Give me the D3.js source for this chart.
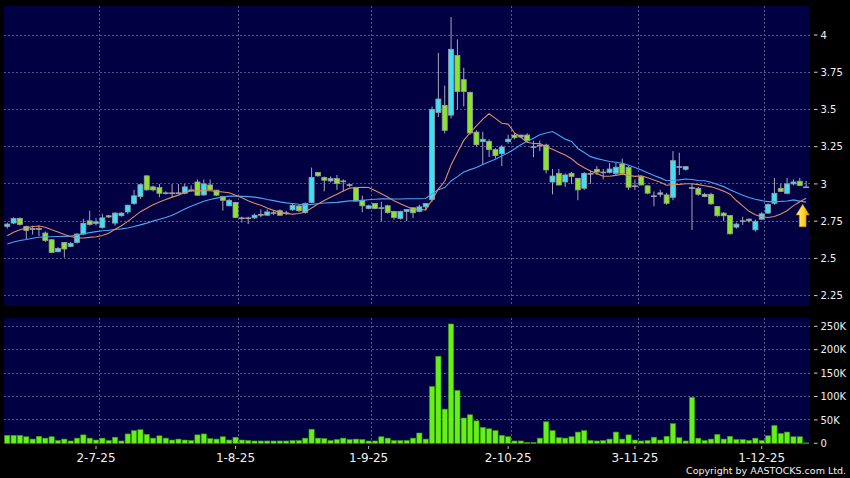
<!DOCTYPE html>
<html>
<head>
<meta charset="utf-8">
<script src="https://cdn.jsdelivr.net/npm/d3@7"></script>
<style>
  body { margin: 0; background: #000; }
  svg { display: block; }
  text { font-family: "DejaVu Sans", Verdana, sans-serif; fill: #f0f0f0; }
</style>
</head>
<body>
<svg id="chart" width="850" height="478"></svg>
<script>
// daily candles, 11 Jun 2025 .. 10 Dec 2025 (index based)
var opens = [2.715,2.737,2.768,2.714,2.70,2.70,2.67,2.625,2.545,2.607,2.58,2.607,2.663,2.752,2.735,2.708,2.786,2.737,2.787,2.812,
  2.868,2.915,3.054,2.98,2.975,2.94,2.94,2.94,2.937,2.955,3.013,2.926,2.993,2.958,2.915,2.853,2.875,2.772,2.772,2.772,
  2.79,2.79,2.807,2.82,2.806,2.826,2.852,2.808,2.875,3.076,3.043,3.02,3.036,3.02,2.995,2.975,2.89,2.835,2.868,2.84,
  2.853,2.815,2.768,2.815,2.84,2.815,2.846,2.895,3.48,3.527,3.462,3.862,3.70,3.614,3.348,3.284,3.286,3.23,3.203,3.284,
  3.328,3.315,3.328,3.25,3.26,3.261,3.013,3.071,3.013,3.071,3.038,2.971,3.07,3.098,3.08,3.076,3.071,3.134,3.11,2.987,
  3.049,2.987,2.92,2.93,2.926,2.91,3.116,3.098,2.975,2.97,2.93,2.93,2.848,2.804,2.788,2.71,2.752,2.763,2.692,2.763,
  2.804,2.87,2.97,2.937,3.0,3.018,2.98];
var highs = [2.74,2.775,2.775,2.72,2.72,2.72,2.68,2.63,2.575,2.61,2.61,2.67,2.765,2.82,2.77,2.80,2.79,2.81,2.81,2.86,
  2.96,3.0,3.06,2.99,3.0,2.95,3.0,3.0,3.0,2.99,3.03,3.03,3.03,2.96,2.92,2.90,2.88,2.78,2.78,2.80,
  2.83,2.83,2.82,2.83,2.82,2.87,2.86,2.875,3.11,3.08,3.05,3.05,3.06,3.03,3.0,2.98,2.92,2.86,2.87,2.88,
  2.86,2.82,2.82,2.83,2.84,2.86,2.87,3.52,3.88,3.66,4.12,3.97,3.78,3.62,3.36,3.35,3.30,3.24,3.26,3.33,
  3.34,3.33,3.34,3.29,3.29,3.27,3.10,3.10,3.07,3.08,3.04,3.08,3.09,3.12,3.10,3.14,3.14,3.17,3.12,3.03,
  3.05,2.99,2.95,2.96,2.94,3.22,3.21,3.12,3.0,2.98,2.94,2.94,2.85,2.81,2.79,2.74,2.78,2.77,2.76,2.81,
  2.87,3.04,3.0,3.04,3.03,3.04,3.02];
var lows = [2.70,2.73,2.72,2.63,2.66,2.65,2.61,2.535,2.54,2.505,2.575,2.60,2.66,2.72,2.72,2.70,2.77,2.72,2.78,2.80,
  2.86,2.90,2.955,2.95,2.91,2.93,2.91,2.93,2.93,2.95,2.92,2.92,2.955,2.92,2.82,2.85,2.77,2.74,2.73,2.765,
  2.775,2.785,2.79,2.785,2.79,2.82,2.81,2.80,2.87,3.05,2.95,3.01,2.96,2.95,2.98,2.88,2.81,2.83,2.83,2.75,
  2.80,2.76,2.76,2.75,2.77,2.81,2.82,2.88,3.45,3.34,3.44,3.50,3.52,3.33,3.25,3.13,3.18,3.17,3.12,3.27,
  3.30,3.31,3.28,3.18,3.22,3.07,2.93,2.99,2.98,3.00,2.89,2.96,3.00,3.06,3.03,3.07,3.06,3.06,2.96,2.96,
  2.99,2.93,2.85,2.91,2.86,2.89,3.06,3.09,2.69,2.92,2.91,2.86,2.78,2.75,2.66,2.70,2.725,2.74,2.68,2.76,
  2.80,2.86,2.945,2.93,2.99,2.985,2.975];
var closes = [2.73,2.768,2.728,2.688,2.70,2.695,2.62,2.54,2.567,2.563,2.60,2.663,2.735,2.728,2.745,2.772,2.778,2.804,2.804,2.857,
  2.92,2.995,2.96,2.96,2.937,2.935,2.94,2.94,2.98,2.96,2.924,3.0,2.96,2.924,2.89,2.89,2.775,2.772,2.77,2.79,
  2.795,2.812,2.805,2.79,2.806,2.857,2.82,2.868,3.043,3.054,3.025,3.036,3.002,3.02,2.99,2.886,2.853,2.853,2.835,2.84,
  2.808,2.775,2.815,2.828,2.806,2.846,2.868,3.50,3.57,3.36,3.904,3.62,3.62,3.342,3.263,3.30,3.23,3.19,3.248,3.30,
  3.31,3.328,3.29,3.25,3.26,3.094,3.053,2.993,3.06,3.05,2.96,3.071,3.07,3.08,3.08,3.10,3.112,3.071,2.978,2.987,
  2.993,2.938,2.92,2.94,2.87,3.156,3.116,3.116,2.975,2.93,2.915,2.866,2.786,2.786,2.665,2.73,2.752,2.752,2.748,2.799,
  2.862,2.937,2.95,3.0,3.013,2.99,2.98];
// volume in thousands of shares
var volumesK = [17,17,17,14,9,15,11,14,6,9,5,11,18,11,7,11,6,13,5,20,
  27,29,19,11,16,11,7,9,7,6,18,20,10,9,14,7,13,7,6,5,
  5,5,5,5,5,6,6,11,30,11,10,6,8,11,8,9,8,5,5,14,
  11,6,6,6,11,22,9,121,186,73,255,113,54,61,48,34,31,27,17,14,
  5,5,2,2,11,46,27,12,11,14,24,27,6,5,6,9,24,9,18,7,
  5,6,13,7,15,42,12,5,98,11,6,9,19,9,15,8,8,6,11,6,
  16,38,21,24,14,14,1];
// closes before the window, only used to start the moving averages
var priorCloses = [2.50,2.52,2.55,2.53,2.56,2.55,2.54,2.53,2.55,2.57,
  2.54,2.55,2.57,2.604,2.66,2.70,2.72,2.71,2.736];

var tickIdx = [14, 36, 57, 79, 99, 119];
var tickLabels = ["2-7-25", "1-8-25", "1-9-25", "2-10-25", "3-11-25", "1-12-25"];
var priceTicks = [2.25, 2.5, 2.75, 3, 3.25, 3.5, 3.75, 4];
var volTicks = [0, 50, 100, 150, 200, 250];

var n = closes.length;
var svg = d3.select("#chart");
var panelL = 4, panelR = 810;
var mainTop = 6, mainBot = 306;
var volTop = 318, volBot = 443.5;

var x = d3.scaleBand().domain(d3.range(n)).range([4.1, 4.1 + n * 6.34]);
var cx = function(i) { return x(i) + x.bandwidth() / 2; };
var y = d3.scaleLinear().domain([2.25, 4]).range([295.6, 35]);
var yv = d3.scaleLinear().domain([0, 250]).range([443.3, 326.3]);

svg.append("rect").attr("width", 850).attr("height", 478).attr("fill", "#000");

var defs = svg.append("defs");
defs.append("clipPath").attr("id", "clipMain").append("rect")
  .attr("x", panelL).attr("y", mainTop).attr("width", panelR - panelL).attr("height", mainBot - mainTop);
var grad = defs.append("linearGradient").attr("id", "arrowGrad").attr("x1", "0").attr("x2", "1");
grad.append("stop").attr("offset", "0").attr("stop-color", "#fff27a");
grad.append("stop").attr("offset", "0.6").attr("stop-color", "#ffd21e");
grad.append("stop").attr("offset", "1").attr("stop-color", "#e09a00");

// panels
svg.append("rect").attr("x", panelL).attr("y", mainTop).attr("width", panelR - panelL)
  .attr("height", mainBot - mainTop).attr("fill", "#000042");
svg.append("rect").attr("x", panelL).attr("y", volTop).attr("width", panelR - panelL)
  .attr("height", volBot - volTop).attr("fill", "#000042");

var gridColor = "#56568e";
// horizontal grid
svg.append("g").attr("shape-rendering", "crispEdges").selectAll("line").data(priceTicks).join("line")
  .attr("x1", panelL).attr("x2", panelR)
  .attr("y1", function(d) { return y(d); }).attr("y2", function(d) { return y(d); })
  .attr("stroke", gridColor).attr("stroke-dasharray", "2,2");
svg.append("g").attr("shape-rendering", "crispEdges").selectAll("line").data(volTicks.slice(1)).join("line")
  .attr("x1", panelL).attr("x2", panelR)
  .attr("y1", function(d) { return yv(d); }).attr("y2", function(d) { return yv(d); })
  .attr("stroke", gridColor).attr("stroke-dasharray", "2,2");
// vertical grid, at the band edge after the month's first day
[[mainTop, mainBot], [volTop, volBot]].forEach(function(p) {
  svg.append("g").attr("shape-rendering", "crispEdges").selectAll("line").data(tickIdx).join("line")
    .attr("x1", function(i) { return x(i) + x.step(); }).attr("x2", function(i) { return x(i) + x.step(); })
    .attr("y1", p[0]).attr("y2", p[1])
    .attr("stroke", gridColor).attr("stroke-dasharray", "2,2");
});

// right axes
var yAxis = svg.append("g");
yAxis.selectAll("line").data(priceTicks).join("line")
  .attr("x1", 814).attr("x2", 817.5)
  .attr("y1", function(d) { return y(d); }).attr("y2", function(d) { return y(d); })
  .attr("stroke", "#d0d0d0");
yAxis.selectAll("text").data(priceTicks).join("text")
  .attr("x", 820.5).attr("y", function(d) { return y(d); }).attr("dy", "0.36em")
  .attr("font-size", "10px").text(function(d) { return String(d); });

var vAxis = svg.append("g");
vAxis.selectAll("line").data(volTicks).join("line")
  .attr("x1", 814).attr("x2", 817.5)
  .attr("y1", function(d) { return yv(d); }).attr("y2", function(d) { return yv(d); })
  .attr("stroke", "#d0d0d0");
vAxis.selectAll("text").data(volTicks).join("text")
  .attr("x", 820.5).attr("y", function(d) { return yv(d); }).attr("dy", "0.36em")
  .attr("font-size", "10px").text(function(d) { return d ? d + "K" : "0"; });

// date axis
var xAxis = svg.append("g");
xAxis.selectAll("line").data(tickIdx).join("line")
  .attr("x1", cx).attr("x2", cx).attr("y1", 446).attr("y2", 449)
  .attr("stroke", "#bbbbbb");
xAxis.selectAll("text").data(tickIdx).join("text")
  .attr("x", cx).attr("y", 462).attr("text-anchor", "middle")
  .attr("font-size", "12px").text(function(i, k) { return tickLabels[k]; });

// volume bars
svg.append("g").selectAll("rect").data(d3.range(n)).join("rect")
  .attr("x", function(i) { return cx(i) - 2.6; })
  .attr("width", 5.2)
  .attr("y", function(i) { return yv(volumesK[i]); })
  .attr("height", function(i) { return Math.max(1, yv(0) - yv(volumesK[i])); })
  .attr("fill", function(i) { return volumesK[i] < 2 ? "#2f7a10" : "#66f01a"; })
  .attr("stroke", "#3a9a0a").attr("stroke-width", 0.6);

// candles
var main = svg.append("g").attr("clip-path", "url(#clipMain)");
var upColor = "#3ce2f2", downColor = "#8ae62a";
main.append("g").selectAll("line").data(d3.range(n)).join("line")
  .attr("x1", cx).attr("x2", cx)
  .attr("y1", function(i) { return y(highs[i]); }).attr("y2", function(i) { return y(lows[i]); })
  .attr("stroke", "#a8a8b4").attr("stroke-width", 1);
main.append("g").selectAll("rect").data(d3.range(n)).join("rect")
  .attr("x", function(i) { return cx(i) - 2.5; })
  .attr("width", 5)
  .attr("y", function(i) { return y(Math.max(opens[i], closes[i])); })
  .attr("height", function(i) { return Math.max(0.8, Math.abs(y(opens[i]) - y(closes[i]))); })
  .attr("fill", function(i) {
    if (closes[i] > opens[i]) return upColor;
    if (closes[i] < opens[i]) return downColor;
    return "#a8a8b4";
  })
  .attr("stroke", "#9c9ca4").attr("stroke-width", 0.8);

// moving averages (10 and 20 day) of the closes
var allCloses = priorCloses.concat(closes);
function sma(k) {
  var off = priorCloses.length;
  return closes.map(function(c, i) { return d3.mean(allCloses.slice(off + i - k + 1, off + i + 1)); });
}
var ma10 = sma(10), ma20 = sma(20);
var line = function(arr) {
  return d3.line().x(function(d, i) { return cx(i); }).y(function(d) { return y(d); })(arr);
};
main.append("path").attr("d", line(ma20)).attr("fill", "none")
  .attr("stroke", "#4aa6f2").attr("stroke-width", 1.1);
main.append("path").attr("d", line(ma10)).attr("fill", "none")
  .attr("stroke", "#de8c62").attr("stroke-width", 1.1);

// marker arrow under the last point
var ax = cx(n - 1) - 3.4, ay = y(ma10[n - 1]) + 6;
svg.append("path")
  .attr("d", "M0,0 L6.6,10.6 L3.4,10.6 L3.4,22.4 L-3.4,22.4 L-3.4,10.6 L-6.6,10.6 Z")
  .attr("transform", "translate(" + ax + "," + ay + ")")
  .attr("fill", "url(#arrowGrad)").attr("stroke", "#c88a00").attr("stroke-width", 0.5);

svg.append("text").attr("x", 846).attr("y", 474).attr("text-anchor", "end")
  .attr("font-size", "9.5px").text("Copyright by AASTOCKS.com Ltd.");
</script>
</body>
</html>
